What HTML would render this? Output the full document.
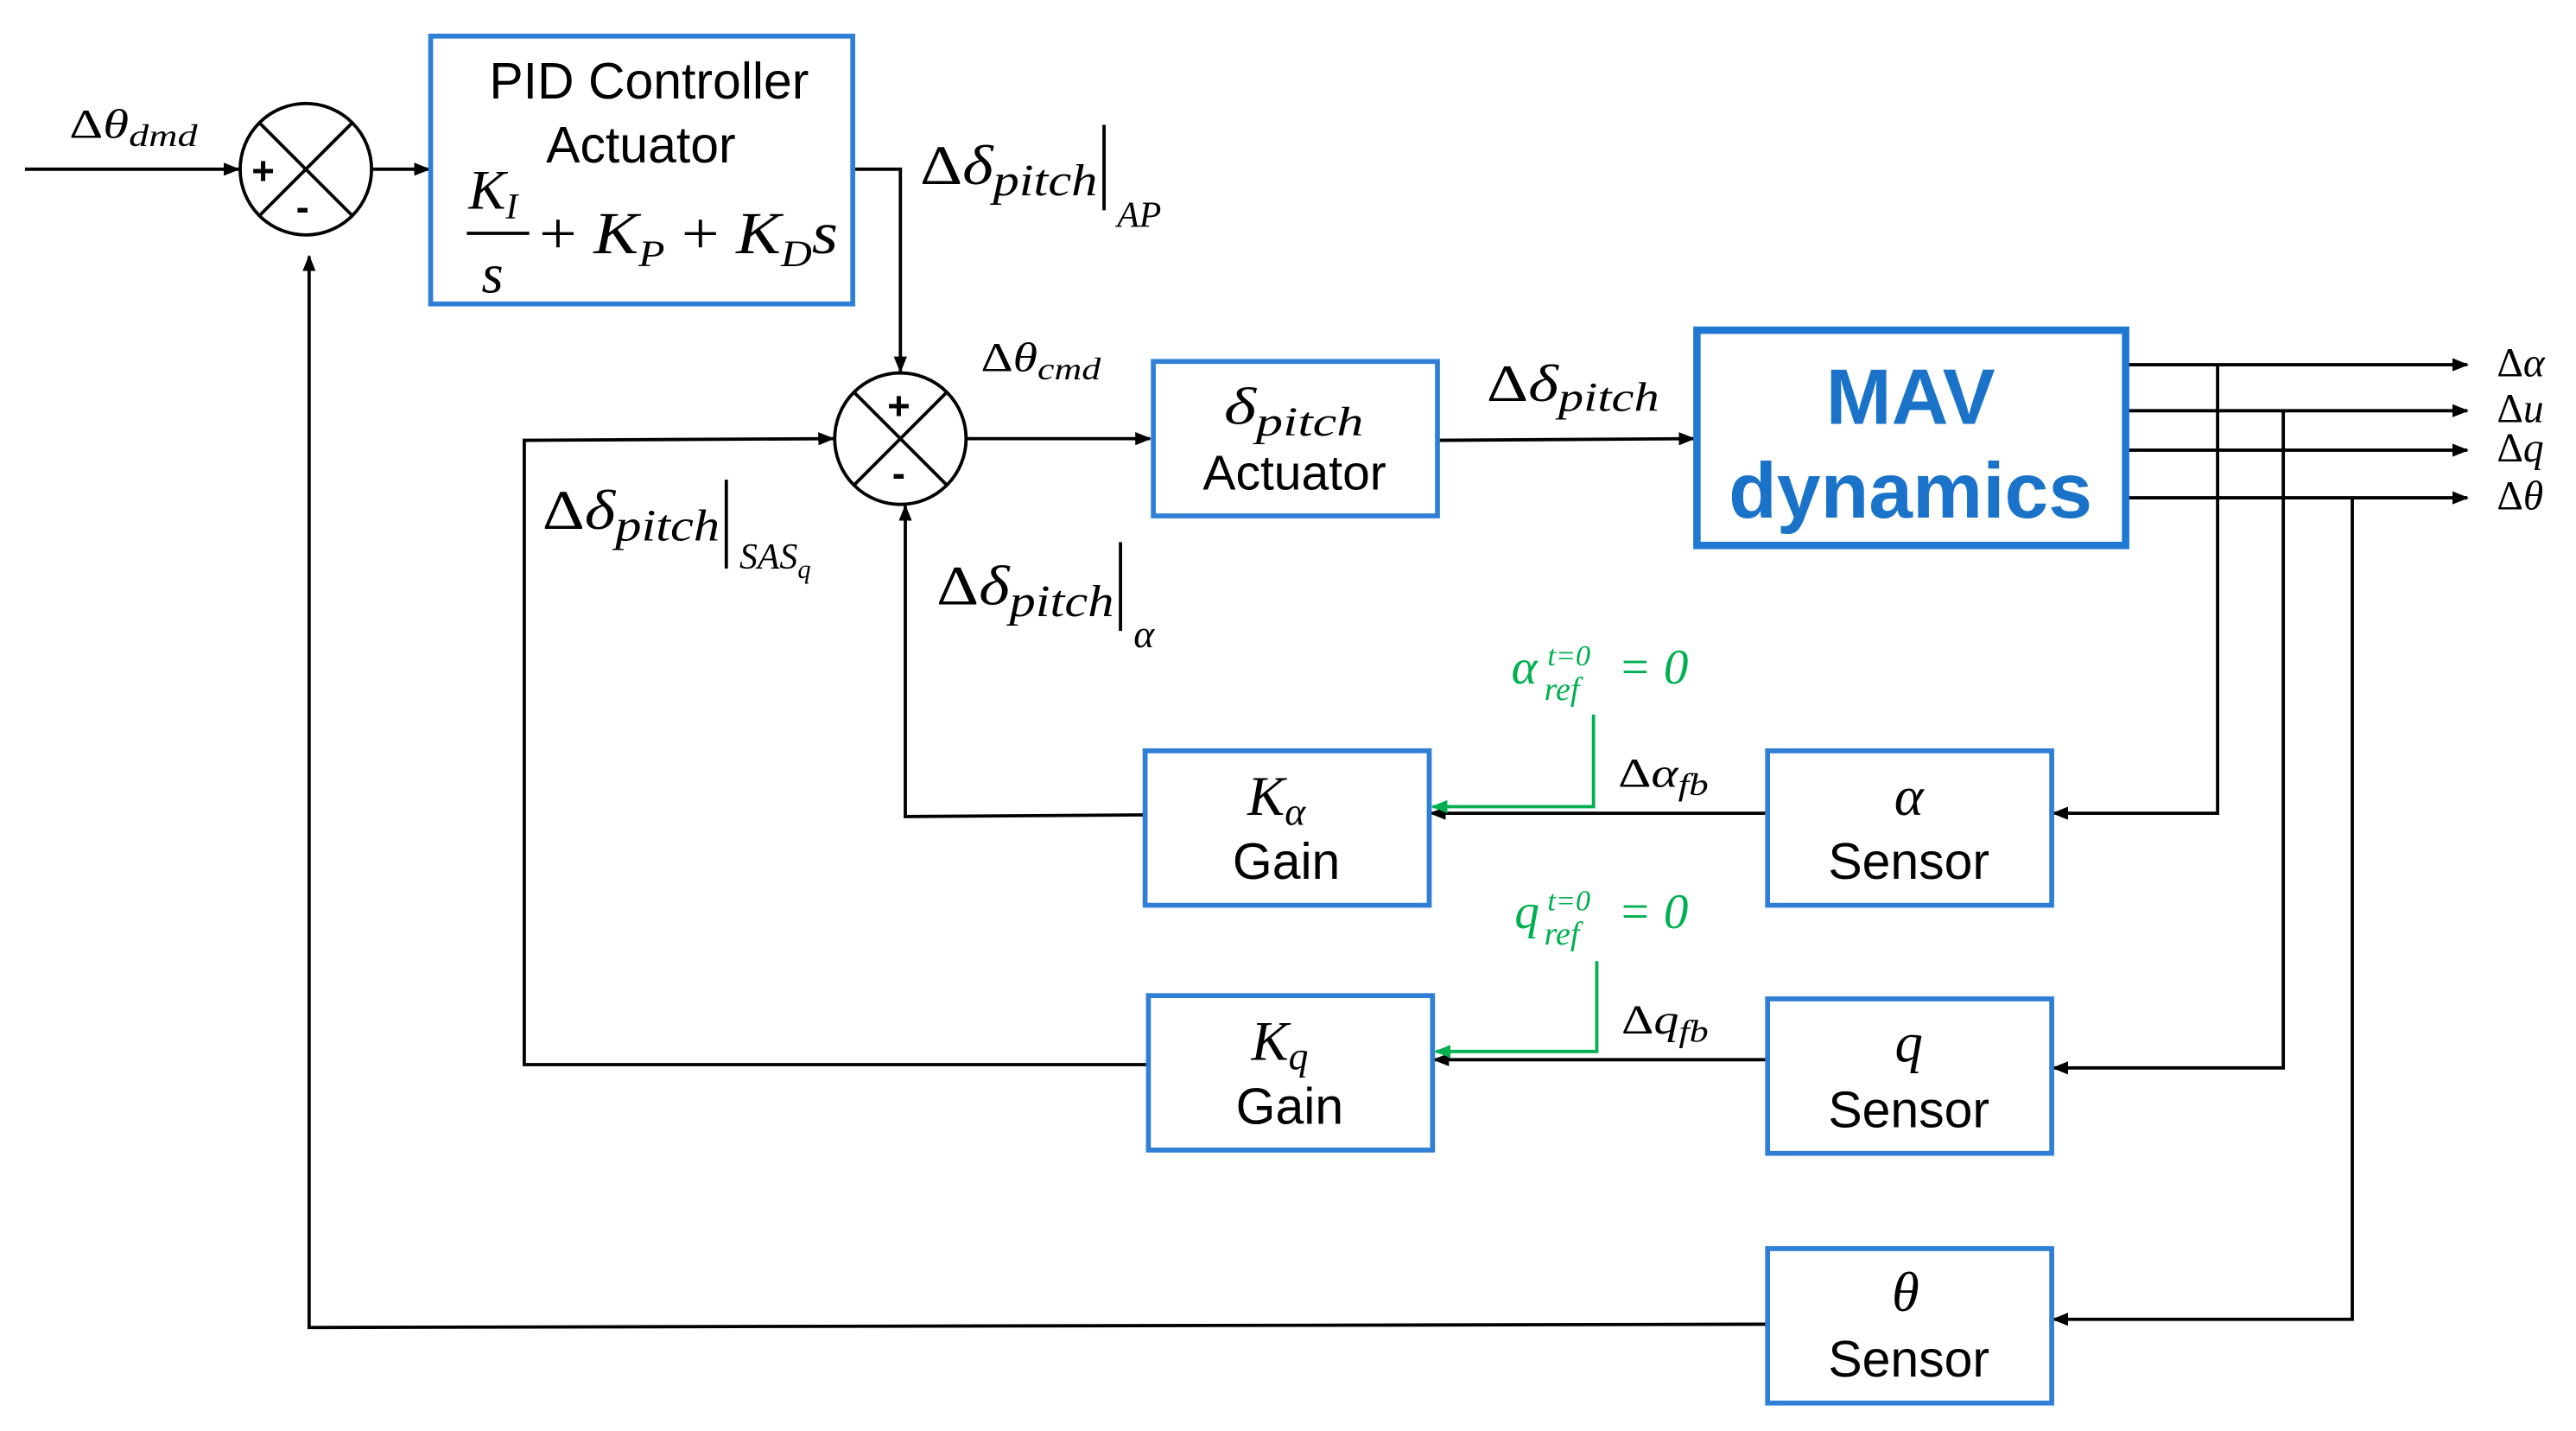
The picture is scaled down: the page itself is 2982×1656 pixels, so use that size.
<!DOCTYPE html>
<html><head><meta charset="utf-8"><style>
html,body{margin:0;padding:0;background:#fff}
svg{display:block}
.s{font-family:"Liberation Sans",sans-serif;fill:#000}
.m{font-family:"Liberation Serif",serif;font-style:italic;fill:#000}
.g{font-family:"Liberation Serif",serif;font-style:italic;fill:#00b050}
</style></head><body>
<svg width="2982" height="1656" viewBox="0 0 1568 871" xmlns="http://www.w3.org/2000/svg">
<defs>
<marker id="a" markerWidth="10" markerHeight="8" refX="9" refY="4" orient="auto" markerUnits="userSpaceOnUse"><path d="M0,0 L10,4 L0,8 z" fill="#000"/></marker>
<marker id="ag" markerWidth="10" markerHeight="8" refX="9" refY="4" orient="auto" markerUnits="userSpaceOnUse"><path d="M0,0 L10,4 L0,8 z" fill="#00b050"/></marker>
</defs>
<g fill="none" stroke="#000" stroke-width="2">
<circle cx="186" cy="103" r="40"/>
<line x1="158" y1="75" x2="214" y2="131"/><line x1="214" y1="75" x2="158" y2="131"/>
<circle cx="548" cy="267" r="40"/>
<line x1="520" y1="239" x2="576" y2="295"/><line x1="576" y1="239" x2="520" y2="295"/>
<line x1="15" y1="103" x2="145" y2="103" marker-end="url(#a)"/>
<line x1="226" y1="103" x2="261" y2="103" marker-end="url(#a)"/>
<polyline points="519,103 548,103 548,226" marker-end="url(#a)"/>
<line x1="588" y1="267" x2="700" y2="267" marker-end="url(#a)"/>
<line x1="875" y1="268" x2="1031" y2="267" marker-end="url(#a)"/>
<line x1="1295" y1="222" x2="1502" y2="222" marker-end="url(#a)"/>
<line x1="1295" y1="250" x2="1502" y2="250" marker-end="url(#a)"/>
<line x1="1295" y1="274" x2="1502" y2="274" marker-end="url(#a)"/>
<line x1="1295" y1="303" x2="1502" y2="303" marker-end="url(#a)"/>
<polyline points="1350,222 1350,495 1250,495" marker-end="url(#a)"/>
<polyline points="1390,250 1390,650 1250,650" marker-end="url(#a)"/>
<polyline points="1432,303 1432,803 1250,803" marker-end="url(#a)"/>
<line x1="1076" y1="495" x2="871" y2="495" marker-end="url(#a)"/>
<line x1="1076" y1="645" x2="873" y2="645" marker-end="url(#a)"/>
<polyline points="697,496 551,497 551,308" marker-end="url(#a)"/>
<polyline points="699,648 319,648 319,268 507,267" marker-end="url(#a)"/>
<polyline points="1076,806 188,808 188,156" marker-end="url(#a)"/>
</g>
<g fill="none" stroke="#00b050" stroke-width="2">
<polyline points="970,435 970,491 872,491" marker-end="url(#ag)"/>
<polyline points="972,585 972,640 874,640" marker-end="url(#ag)"/>
</g>
<g fill="#fff" stroke="#2f7fd6" stroke-width="3">
<rect x="262" y="22" width="257" height="163"/>
<rect x="702" y="220" width="173" height="94"/>
<rect x="697" y="457" width="173" height="94"/>
<rect x="699" y="606" width="173" height="94"/>
<rect x="1076" y="457" width="173" height="94"/>
<rect x="1076" y="608" width="173" height="94"/>
<rect x="1076" y="760" width="173" height="94"/>
</g>
<rect x="1033" y="201" width="261" height="131" fill="#fff" stroke="#1f78d1" stroke-width="4.5"/>
<text class="s" x="395" y="60" font-size="31" text-anchor="middle">PID Controller</text>
<text class="s" x="390" y="99" font-size="31" text-anchor="middle">Actuator</text>
<text class="m" x="285" y="127" font-size="34">K<tspan font-size="22" dy="6">I</tspan></text>
<line x1="284" y1="142" x2="322" y2="142" stroke="#000" stroke-width="2"/>
<text class="m" x="293" y="178" font-size="34">s</text>
<text class="m" x="328" y="154" font-size="36" textLength="182" lengthAdjust="spacingAndGlyphs"><tspan font-style="normal">+</tspan> K<tspan font-size="23" dy="8">P</tspan><tspan dy="-8" font-style="normal"> +</tspan> K<tspan font-size="23" dy="8">D</tspan><tspan dy="-8">s</tspan></text>
<text class="m" x="745" y="258" font-size="32" textLength="85" lengthAdjust="spacingAndGlyphs">δ<tspan font-size="25" dy="7">pitch</tspan></text>
<text class="s" x="788" y="298" font-size="30" text-anchor="middle">Actuator</text>
<text x="1163" y="258" font-family="Liberation Sans,sans-serif" font-weight="bold" font-size="48" fill="#1a73c8" text-anchor="middle">MAV</text>
<text x="1163" y="315" font-family="Liberation Sans,sans-serif" font-weight="bold" font-size="48" fill="#1a73c8" text-anchor="middle">dynamics</text>
<text class="m" x="777" y="496" font-size="34" text-anchor="middle">K<tspan font-size="24" dy="6">α</tspan></text>
<text class="s" x="783" y="535" font-size="31" text-anchor="middle">Gain</text>
<text class="m" x="779" y="645" font-size="34" text-anchor="middle">K<tspan font-size="24" dy="6">q</tspan></text>
<text class="s" x="785" y="684" font-size="31" text-anchor="middle">Gain</text>
<text class="m" x="1162" y="496" font-size="34" text-anchor="middle">α</text>
<text class="s" x="1162" y="535" font-size="31" text-anchor="middle">Sensor</text>
<text class="m" x="1162" y="646" font-size="34" text-anchor="middle">q</text>
<text class="s" x="1162" y="686" font-size="31" text-anchor="middle">Sensor</text>
<text class="m" x="1160" y="798" font-size="34" text-anchor="middle">θ</text>
<text class="s" x="1162" y="838" font-size="31" text-anchor="middle">Sensor</text>
<text class="s" x="153" y="112" font-size="24" font-weight="bold">+</text>
<text class="s" x="180" y="134" font-size="24" font-weight="bold">-</text>
<text class="s" x="540" y="255" font-size="24" font-weight="bold">+</text>
<text class="s" x="543" y="296" font-size="24" font-weight="bold">-</text>
<text class="m" x="42" y="84" font-size="25" textLength="78" lengthAdjust="spacingAndGlyphs"><tspan font-style="normal">Δ</tspan>θ<tspan font-size="19" dy="5">dmd</tspan></text>
<text class="m" x="560" y="112" font-size="34" textLength="108" lengthAdjust="spacingAndGlyphs"><tspan font-style="normal">Δ</tspan>δ<tspan font-size="27" dy="7">pitch</tspan></text>
<line x1="672" y1="76" x2="672" y2="128" stroke="#000" stroke-width="2"/>
<text class="m" x="680" y="138" font-size="22">AP</text>
<text class="m" x="597" y="226" font-size="25" textLength="73" lengthAdjust="spacingAndGlyphs"><tspan font-style="normal">Δ</tspan>θ<tspan font-size="19" dy="5">cmd</tspan></text>
<text class="m" x="905" y="244" font-size="32" textLength="105" lengthAdjust="spacingAndGlyphs"><tspan font-style="normal">Δ</tspan>δ<tspan font-size="25" dy="6">pitch</tspan></text>
<text class="m" x="330" y="322" font-size="34" textLength="108" lengthAdjust="spacingAndGlyphs"><tspan font-style="normal">Δ</tspan>δ<tspan font-size="27" dy="7">pitch</tspan></text>
<line x1="442" y1="292" x2="442" y2="346" stroke="#000" stroke-width="2"/>
<text class="m" x="450" y="346" font-size="22">SAS<tspan font-size="16" dy="6">q</tspan></text>
<text class="m" x="570" y="368" font-size="34" textLength="108" lengthAdjust="spacingAndGlyphs"><tspan font-style="normal">Δ</tspan>δ<tspan font-size="27" dy="7">pitch</tspan></text>
<line x1="682" y1="330" x2="682" y2="384" stroke="#000" stroke-width="2"/>
<text class="m" x="690" y="394" font-size="24">α</text>
<text class="m" x="1520" y="229" font-size="25"><tspan font-style="normal">Δ</tspan>α</text>
<text class="m" x="1520" y="257" font-size="25"><tspan font-style="normal">Δ</tspan>u</text>
<text class="m" x="1520" y="281" font-size="25"><tspan font-style="normal">Δ</tspan>q</text>
<text class="m" x="1520" y="310" font-size="25"><tspan font-style="normal">Δ</tspan>θ</text>
<text class="m" x="985" y="479" font-size="25" textLength="55" lengthAdjust="spacingAndGlyphs"><tspan font-style="normal">Δ</tspan>α<tspan font-size="19" dy="5">fb</tspan></text>
<text class="m" x="987" y="629" font-size="25" textLength="53" lengthAdjust="spacingAndGlyphs"><tspan font-style="normal">Δ</tspan>q<tspan font-size="19" dy="5">fb</tspan></text>
<text class="g" x="920" y="416" font-size="30">α</text>
<text class="g" x="942" y="405" font-size="18">t=0</text>
<text class="g" x="940" y="426" font-size="20">ref</text>
<text class="g" x="985" y="416" font-size="30" font-style="normal">= 0</text>
<text class="g" x="922" y="565" font-size="30">q</text>
<text class="g" x="942" y="554" font-size="18">t=0</text>
<text class="g" x="940" y="575" font-size="20">ref</text>
<text class="g" x="985" y="565" font-size="30" font-style="normal">= 0</text>
</svg>
</body></html>
